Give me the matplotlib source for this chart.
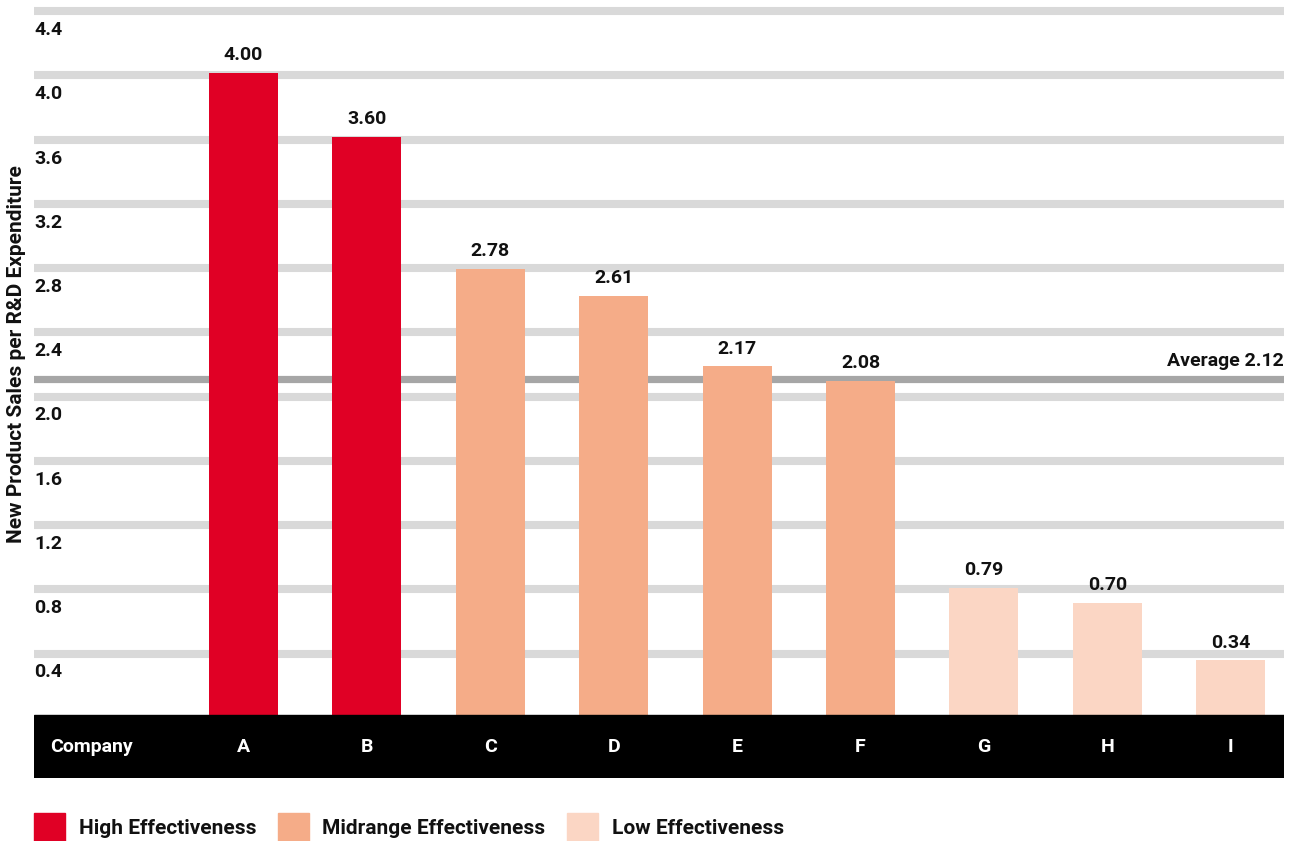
import matplotlib
matplotlib.use("Agg")
import matplotlib.pyplot as plt
from matplotlib.patches import Rectangle
import matplotlib.transforms as mtransforms

plt.rcParams["font.family"] = ["Roboto", "DejaVu Sans"]
plt.rcParams["font.weight"] = "bold"

companies = ["A", "B", "C", "D", "E", "F", "G", "H", "I"]
values = [4.00, 3.60, 2.78, 2.61, 2.17, 2.08, 0.79, 0.70, 0.34]
groups = ["High", "High", "Mid", "Mid", "Mid", "Mid", "Low", "Low", "Low"]
average = 2.12
yticks = [0.4, 0.8, 1.2, 1.6, 2.0, 2.4, 2.8, 3.2, 3.6, 4.0, 4.4]
legend_keys = ["High", "Mid", "Low"]
legend_labels = ["High Effectiveness", "Midrange Effectiveness", "Low Effectiveness"]

colors = {"High": "#e00025", "Mid": "#f5ac88", "Low": "#fbd6c4"}
GRID = "#d9d9d9"
AVG = "#a6a6a6"
INK = "#111111"

W, H, DPI = 1296, 841, 100
PX_PER_UNIT = 160.6
BAND_PX = 63
FS = 14

fig = plt.figure(figsize=(W / DPI, H / DPI), dpi=DPI)
ax = fig.add_axes([34 / W, 1 - 778 / H, 1250 / W, 778 / H])
ax.set_axis_off()

band_bottom = -BAND_PX / PX_PER_UNIT
ax.set_ylim(band_bottom, 715 / PX_PER_UNIT)
ax.set_xlim(-0.698, 9.432)

# horizontal grid bands with labels sitting just below each one
lab_tr = mtransforms.blended_transform_factory(ax.transAxes, ax.transData)
for v in yticks:
    ax.axhline(v - 0.018, color=GRID, lw=5.8, zorder=1)
    ax.text(0, v - 0.135, f"{v:.1f}", transform=lab_tr, ha="left", va="center",
            fontsize=FS, fontweight="bold", color=INK)

ax.axhline(average - 0.03, color=AVG, lw=5.2, zorder=1.5)
ax.text(1, average + 0.085, f"Average {average:.2f}", transform=lab_tr,
        ha="right", va="center", fontsize=FS, fontweight="bold", color=INK)

xs = list(range(1, len(companies) + 1))
ax.bar(xs, values, width=0.56, color=[colors[g] for g in groups], zorder=2)
for x, v in zip(xs, values):
    ax.text(x, v + 0.11, f"{v:.2f}", ha="center", va="center",
            fontsize=FS, fontweight="bold", color=INK)

# black category band under the bars
ax.axhspan(band_bottom, 0, color="black", zorder=3)
ymid = band_bottom / 2
ax.text(0.0128, ymid, "Company", transform=lab_tr, ha="left", va="center",
        fontsize=FS, fontweight="bold", color="white", zorder=4)
for x, c in zip(xs, companies):
    ax.text(x, ymid, c, ha="center", va="center", fontsize=FS,
            fontweight="bold", color="white", zorder=4)

fig.text(17 / W, 1 - 354 / H, "New Product Sales per R&D Expenditure",
         rotation=90, ha="center", va="center", fontsize=15,
         fontweight="bold", color=INK)

# legend row along the bottom edge
renderer = fig.canvas.get_renderer()
x0 = 34
for key, lab in zip(legend_keys, legend_labels):
    fig.patches.append(Rectangle((x0 / W, 0), 31 / W, 28 / H, color=colors[key],
                                 transform=fig.transFigure, figure=fig))
    t = fig.text((x0 + 45) / W, 1 - 829 / H, lab, ha="left", va="center",
                 fontsize=15, fontweight="bold", color=INK)
    bb = t.get_window_extent(renderer)
    x0 = bb.x1 + 21

fig.savefig("out.png", dpi=DPI)
